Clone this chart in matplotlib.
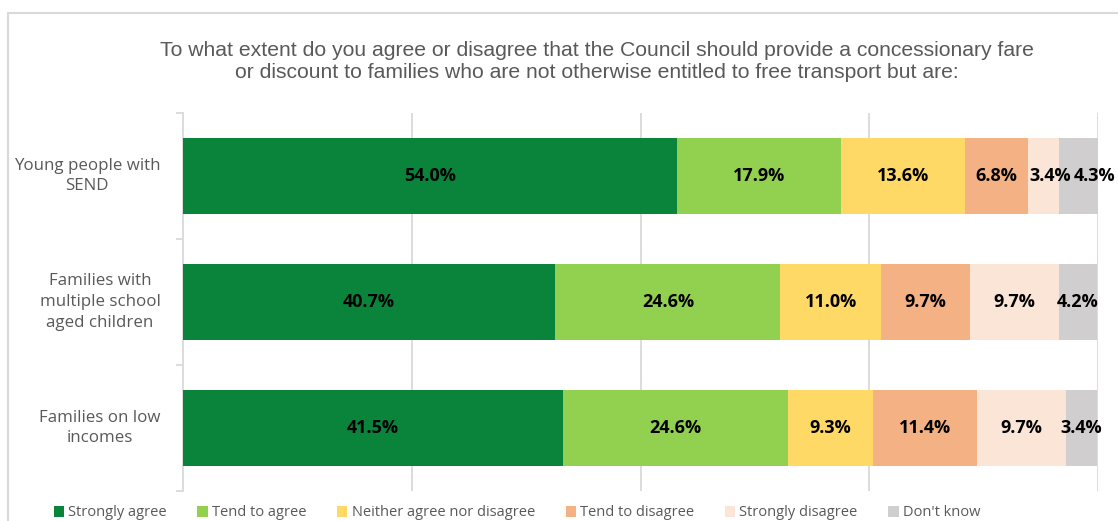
import numpy as np
import matplotlib.pyplot as plt
from matplotlib.patches import Rectangle
from matplotlib.transforms import blended_transform_factory

# Categorías y porcentajes por respuesta
categorias = ['Young people with\nSEND',
              'Families with\nmultiple school\naged children',
              'Families on low\nincomes']
respuestas = ['Strongly agree', 'Tend to agree', 'Neither agree nor disagree',
              'Tend to disagree', 'Strongly disagree', "Don't know"]
muy_de_acuerdo = [54.0, 40.7, 41.5]
de_acuerdo = [17.9, 24.6, 24.6]
neutral = [13.6, 11.0, 9.3]
desacuerdo = [6.8, 9.7, 11.4]
muy_desacuerdo = [3.4, 9.7, 9.7]
no_sabe = [4.3, 4.2, 3.4]

valores = [muy_de_acuerdo, de_acuerdo, neutral, desacuerdo, muy_desacuerdo, no_sabe]
colores = ['#09843A', '#92D050', '#FFD966', '#F4B183', '#FBE5D6', '#D0CECE']

# Desplazamiento (en puntos) de etiquetas que no caben en su segmento
desplazar = {(0, 4): 5, (0, 5): 12}

plt.rcParams['font.family'] = ['Open Sans', 'DejaVu Sans']

W, H = 1118, 521
fig = plt.figure(figsize=(W / 100, H / 100), dpi=100)
ax = fig.add_axes([183 / W, 1 - 491 / H, (1098 - 183) / W, (491 - 113) / H])

# Marco del gráfico
fig.patches.append(Rectangle((8 / W, -0.1), 1.2, 1 - 13 / H + 0.1,
                             transform=fig.transFigure, fill=False,
                             edgecolor='#D9D9D9', linewidth=1.5))

y = np.arange(len(categorias))
izquierda = np.zeros(len(categorias))
for j, (serie, color, nombre) in enumerate(zip(valores, colores, respuestas)):
    barras = ax.barh(y, serie, left=izquierda, height=0.61, color=color,
                     label=nombre, zorder=3)
    for i, (b, v) in enumerate(zip(barras, serie)):
        ax.annotate(f'{v:.1f}%',
                    xy=(b.get_x() + b.get_width() / 2, b.get_y() + b.get_height() / 2),
                    xytext=(desplazar.get((i, j), 0), 0), textcoords='offset points',
                    ha='center', va='center', fontsize=13,
                    fontweight='bold', color='black', zorder=4)
    izquierda += np.array(serie)

ax.set_xlim(0, 100)
ax.set_ylim(2.5, -0.5)
ax.set_xticks([25, 50, 75, 100])
ax.tick_params(axis='x', length=0, labelbottom=False)
ax.grid(axis='x', color='#D9D9D9', linewidth=1.3, zorder=0)

ax.set_yticks([-0.5, 0.5, 1.5, 2.5])
ax.set_yticklabels([])
ax.tick_params(axis='y', length=5, color='#D9D9D9', width=1.3)

# Etiquetas de categoría centradas a la izquierda del eje
trans = blended_transform_factory(fig.transFigure, ax.transData)
for i, c in enumerate(categorias):
    x_fig = [87, 100, 100][i]
    ax.text(x_fig / W, i, c, transform=trans, ha='center', va='center',
            fontsize=12.2, color='#595959', linespacing=1.4)

for lado in ['top', 'right', 'bottom']:
    ax.spines[lado].set_visible(False)
ax.spines['left'].set_color('#D9D9D9')
ax.spines['left'].set_linewidth(1.3)

fig.text(597 / W, 1 - 61 / H,
         'To what extent do you agree or disagree that the Council should provide a concessionary fare\n'
         'or discount to families who are not otherwise entitled to free transport but are:',
         ha='center', va='center', fontsize=15.2, color='#595959',
         family=['Liberation Sans', 'DejaVu Sans'], linespacing=1.2)

fig.legend(loc='center', bbox_to_anchor=(517 / W, 1 - 513 / H), ncol=6,
           frameon=False, fontsize=10.5, handlelength=0.7, handleheight=0.7,
           handletextpad=0.3, columnspacing=2.1, labelcolor='#595959')

plt.savefig('out.png', dpi=100)
